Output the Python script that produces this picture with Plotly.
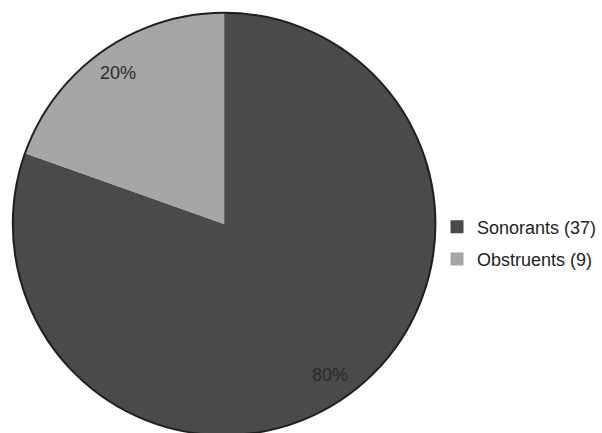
import math
import plotly.graph_objects as go

categories = ["Sonorants", "Obstruents"]
counts = [37, 9]
colors = ["#4a4a4a", "#a6a6a6"]

W, H = 602, 440
cx, cy, R = 226, 224, 213
FONT = "Liberation Sans, Arial"

legend_names = [f"{c} ({n})" for c, n in zip(categories, counts)]
domain = dict(x=[(cx - R) / W, (cx + R) / W], y=[1 - (cy + R) / H, 1 - (cy - R) / H])

fig = go.Figure(go.Pie(
    labels=legend_names,
    values=counts,
    sort=False,
    direction="clockwise",
    rotation=0,
    marker=dict(colors=colors, line=dict(width=0)),
    textinfo="none",
    hoverinfo="label+percent",
    showlegend=False,
    domain=domain,
))

# outer outline only (no radial edge lines in the reference)
fig.add_trace(go.Pie(
    labels=["total"], values=[sum(counts)], sort=False,
    marker=dict(colors=["rgba(0,0,0,0)"], line=dict(color="#1e1e1e", width=2)),
    textinfo="none", hoverinfo="skip", showlegend=False, domain=domain,
))

# legend entries
for name, col in zip(legend_names, colors):
    fig.add_trace(go.Scatter(x=[None], y=[None], mode="markers", name=name,
                             legendgroup=name,
                             marker=dict(symbol="square", size=13, color=col,
                                         line=dict(width=0))))

total = sum(counts)
start = 0.0
for n in counts:
    frac = n / total
    mid = (start + frac / 2) * 2 * math.pi
    r = 0.87 * R
    px = cx + r * math.sin(mid)
    py = cy - r * math.cos(mid)
    fig.add_annotation(x=px / W, y=1 - py / H, xref="paper", yref="paper",
                       xanchor="center", yanchor="middle",
                       text=f"{round(frac * 100)}%", showarrow=False,
                       font=dict(family=FONT, size=18, color="#2a2a2a"))
    start += frac

fig.update_layout(
    width=W, height=H,
    margin=dict(l=0, r=0, t=0, b=0),
    paper_bgcolor="white",
    plot_bgcolor="white",
    xaxis=dict(visible=False),
    yaxis=dict(visible=False),
    showlegend=True,
    legend=dict(x=441 / W, y=1 - 243 / H, xanchor="left", yanchor="middle",
                font=dict(family=FONT, size=18, color="#222222"),
                itemwidth=30, tracegroupgap=6, itemsizing="trace"),
)

fig.write_html("out.html", post_script="document.body.style.overflow='hidden';document.documentElement.style.overflow='hidden';")
